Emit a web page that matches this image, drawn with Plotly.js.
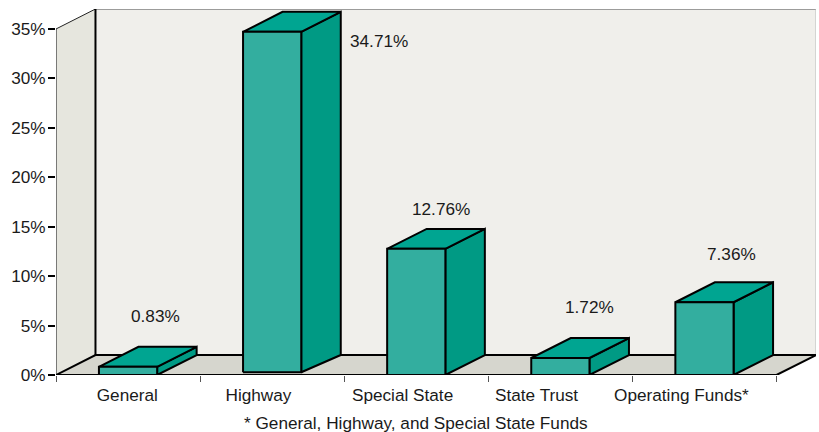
<!DOCTYPE html>
<html>
<head>
<meta charset="utf-8">
<script src="https://cdn.plot.ly/plotly-3.0.1.min.js"></script>
<style>html,body{margin:0;padding:0;background:#fff}</style>
</head>
<body>
<div id="chart" style="width:819px;height:432px"></div>
<script>
// Fund shares, in percent
const categories = ["General", "Highway", "Special State", "State Trust", "Operating Funds*"];
const shares = [0.83, 34.71, 12.76, 1.72, 7.36];
const percentTicks = [0, 5, 10, 15, 20, 25, 30, 35];
const footnote = "* General, Highway, and Special State Funds";

// Oblique projection of the box: depth offset in axis units
const depthX = 0.274, depthY = 2.02;
const barWidth = 0.404;
const topPct = 35;
const n = categories.length;

// Small lift of a bar's foot above the floor edge
const footLift = [0, 0.28, 0, 0, 0];

// Where each category name and value label sits, relative to its bar
const nameShift = [-0.005, -0.095, -0.095, -0.165, -0.16];
const labelShiftX = [0.19, 0.74, 0.175, 0.2, 0.19];
const labelShiftY = [5.1, -0.9, 4.05, 5.15, 4.85];

const FONT = "Liberation Sans, Arial, sans-serif";
const FONT_SIZE = 17.2;
const TEXT = "#1a1a1a";

function poly(points) { // closed ring plus a gap, so rings can be chained in one trace
  const xs = [], ys = [];
  points.concat([points[0]]).forEach(p => { xs.push(p[0]); ys.push(p[1]); });
  xs.push(null); ys.push(null);
  return [xs, ys];
}
function fillTrace(rings, color, line) {
  const xs = [], ys = [];
  rings.forEach(r => { const [a, b] = poly(r); xs.push(...a); ys.push(...b); });
  return {
    x: xs, y: ys, type: "scatter", mode: "lines", fill: "toself", fillcolor: color,
    line: line || { width: 0 }, hoverinfo: "skip", showlegend: false, cliponaxis: false
  };
}
function edge(pts, color, width) {
  return {
    x: pts.map(p => p[0]), y: pts.map(p => p[1]), type: "scatter", mode: "lines",
    line: { color: color, width: width }, hoverinfo: "skip", showlegend: false, cliponaxis: false
  };
}

const traces = [
  // Walls and floor of the box
  fillTrace([[[depthX, depthY], [depthX, topPct + depthY], [n + depthX, topPct + depthY], [n + depthX, depthY]]], "#f0efeb"),
  fillTrace([[[0, 0], [0, topPct], [depthX, topPct + depthY], [depthX, depthY]]], "#e6e6de"),
  fillTrace([[[0, 0], [depthX, depthY], [n + depthX, depthY], [n, 0]]], "#d6d6ce"),
  edge([[depthX, topPct + depthY], [n + depthX, topPct + depthY]], "#808080", 1.5),
  edge([[n + depthX, topPct + depthY], [n + depthX, depthY]], "#b8b8b8", 1),
  edge([[0, 0], [0, topPct]], "#555555", 1.5),
  edge([[0, topPct], [depthX, topPct + depthY]], "#222222", 1),
  edge([[depthX, topPct + depthY], [depthX, depthY]], "#000000", 2),
  edge([[0, 0], [depthX, depthY], [n + depthX, depthY], [n, 0], [0, 0]], "#000000", 2)
];

// Bars: one trace per shaded face, each ring built from the share it stands for
const fronts = [], tops = [], sides = [];
shares.forEach((v, i) => {
  const l = i + 0.5 - barWidth / 2, r = i + 0.5 + barWidth / 2;
  const foot = footLift[i];
  fronts.push([[l, foot], [l, v], [r, v], [r, foot]]);
  tops.push([[l, v], [l + depthX, v + depthY], [r + depthX, v + depthY], [r, v]]);
  sides.push([[r, foot], [r, v], [r + depthX, v + depthY], [r + depthX, depthY]]);
});
const barEdge = { color: "#000000", width: 2 };
traces.push(fillTrace(sides, "#009a84", barEdge));
traces.push(fillTrace(tops, "#00a591", barEdge));
traces.push(fillTrace(fronts, "#33ae9f", barEdge));

const valueLabels = shares.map((v, i) => ({
  x: i + 0.5 + labelShiftX[i], y: v + labelShiftY[i], xref: "x", yref: "y",
  text: v.toFixed(2) + "%", showarrow: false, xanchor: "center", yanchor: "middle",
  font: { family: FONT, size: FONT_SIZE, color: TEXT }
}));

const layout = {
  width: 819, height: 432,
  margin: { l: 56, r: 3, t: 9, b: 57, pad: 0 },
  paper_bgcolor: "#ffffff", plot_bgcolor: "#ffffff",
  showlegend: false,
  xaxis: {
    range: [0, n + depthX], showgrid: false, zeroline: false, showline: false, fixedrange: true,
    tickmode: "array",
    tickvals: categories.map((c, i) => i + 0.5 + nameShift[i]),
    ticktext: categories,
    ticks: "", ticklabelstandoff: 8,
    tickfont: { family: FONT, size: FONT_SIZE, color: TEXT },
    minor: {
      tickmode: "array", tickvals: Array.from({ length: n + 1 }, (_, i) => i),
      ticks: "outside", ticklen: 6, tickwidth: 1, tickcolor: "#555555", showgrid: false
    }
  },
  yaxis: {
    range: [0, topPct + depthY], showgrid: false, zeroline: false, showline: false, fixedrange: true,
    tickmode: "array", tickvals: percentTicks, ticktext: percentTicks.map(t => t + "%"),
    ticks: "outside", ticklen: 7, tickwidth: 2, tickcolor: "#000000", ticklabelstandoff: -1,
    tickfont: { family: FONT, size: FONT_SIZE, color: TEXT }
  },
  annotations: valueLabels.concat([{
    xref: "paper", yref: "paper", x: 0.4737, y: -0.131,
    xanchor: "center", yanchor: "middle", text: footnote, showarrow: false,
    font: { family: FONT, size: FONT_SIZE, color: TEXT }
  }])
};

Plotly.newPlot("chart", traces, layout, { staticPlot: true, displayModeBar: false });
</script>
</body>
</html>
